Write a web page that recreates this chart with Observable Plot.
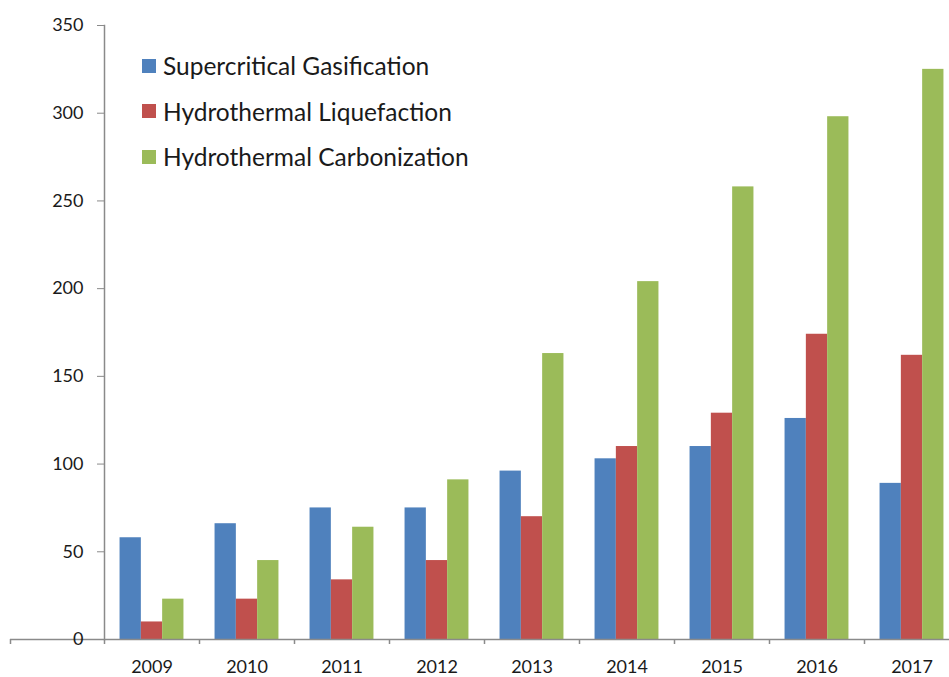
<!DOCTYPE html>
<html>
<head>
<meta charset="utf-8">
<script src="https://cdn.jsdelivr.net/npm/d3@7"></script>
<script src="https://cdn.jsdelivr.net/npm/@observablehq/plot@0.6"></script>
<style>
  html, body { margin: 0; padding: 0; background: #fff; overflow: hidden; }
  #wrap { position: relative; width: 949px; height: 677px; }
  #legend { position: absolute; left: 142px; top: 43px; font-family: Lato, "Open Sans", sans-serif; font-size: 24.5px; color: #1a1a1a; }
  #legend .row { display: flex; align-items: center; height: 45.5px; }
  #legend .sw { width: 14px; height: 14px; margin-right: 7px; }
</style>
</head>
<body>
<div id="wrap"></div>
<script>
const years = [2009, 2010, 2011, 2012, 2013, 2014, 2015, 2016, 2017];
const seriesNames = ["Supercritical Gasification", "Hydrothermal Liquefaction", "Hydrothermal Carbonization"];
const supercritical = [58, 66, 75, 75, 96, 103, 110, 126, 89];
const liquefaction = [10, 23, 34, 45, 70, 110, 129, 174, 162];
const carbonization = [23, 45, 64, 91, 163, 204, 258, 298, 325];
const yTicks = [0, 50, 100, 150, 200, 250, 300, 350];
const colors = ["#4F81BD", "#C0504D", "#9BBB59"];

const seriesValues = [supercritical, liquefaction, carbonization];
const rows = seriesNames.map((s, k) => years.map((yr, i) => ({year: yr, series: s, value: seriesValues[k][i]})));

const band = 95, barW = 21.3;
const inset = (band - barW) / 2;
const axisColor = "#8a8a8a";
const font = "Lato, 'Open Sans', sans-serif";

const chart = Plot.plot({
  width: 949,
  height: 677,
  marginLeft: 104,
  marginRight: 0,
  marginTop: 25,
  marginBottom: 38,
  style: {fontFamily: font, fontSize: "18px", color: "#1a1a1a", background: "#fff"},
  x: {type: "band", domain: years, range: [104, 104 + band * years.length], padding: 0, label: null},
  y: {domain: [0, 350], ticks: yTicks, label: null},
  marks: [
    ...rows.map((data, k) => Plot.barY(data, {
      x: "year", y: "value", fill: colors[k],
      insetLeft: inset, insetRight: inset, dx: (k - 1) * barW
    })),
    Plot.ruleY([0], {stroke: axisColor, strokeWidth: 1.5, insetLeft: -94}),
    Plot.frame({anchor: "left", stroke: axisColor, strokeWidth: 1.5}),
    Plot.ruleX(years, {x: d => d, dx: -band / 2, y1: 0, y2: 0, insetBottom: -5, stroke: axisColor, strokeWidth: 1.5}),
    Plot.ruleX([years[0]], {x: d => d, dx: -band * 1.5 + 1, y1: 0, y2: 0, insetBottom: -5, stroke: axisColor, strokeWidth: 1.5}),
    Plot.axisY({ticks: yTicks, tickSize: 7, tickPadding: 14, stroke: axisColor, fill: "#1a1a1a", fontSize: 18, label: null}),
    Plot.axisX({tickSize: 0, tickPadding: 21, fill: "#1a1a1a", fontSize: 18, tickFormat: d => String(d), label: null})
  ]
});

const wrap = document.getElementById("wrap");
wrap.appendChild(chart);

const legend = document.createElement("div");
legend.id = "legend";
seriesNames.forEach((s, k) => {
  const row = document.createElement("div");
  row.className = "row";
  const sw = document.createElement("span");
  sw.className = "sw";
  sw.style.background = colors[k];
  const t = document.createElement("span");
  t.textContent = s;
  row.appendChild(sw);
  row.appendChild(t);
  legend.appendChild(row);
});
wrap.appendChild(legend);
</script>
</body>
</html>
